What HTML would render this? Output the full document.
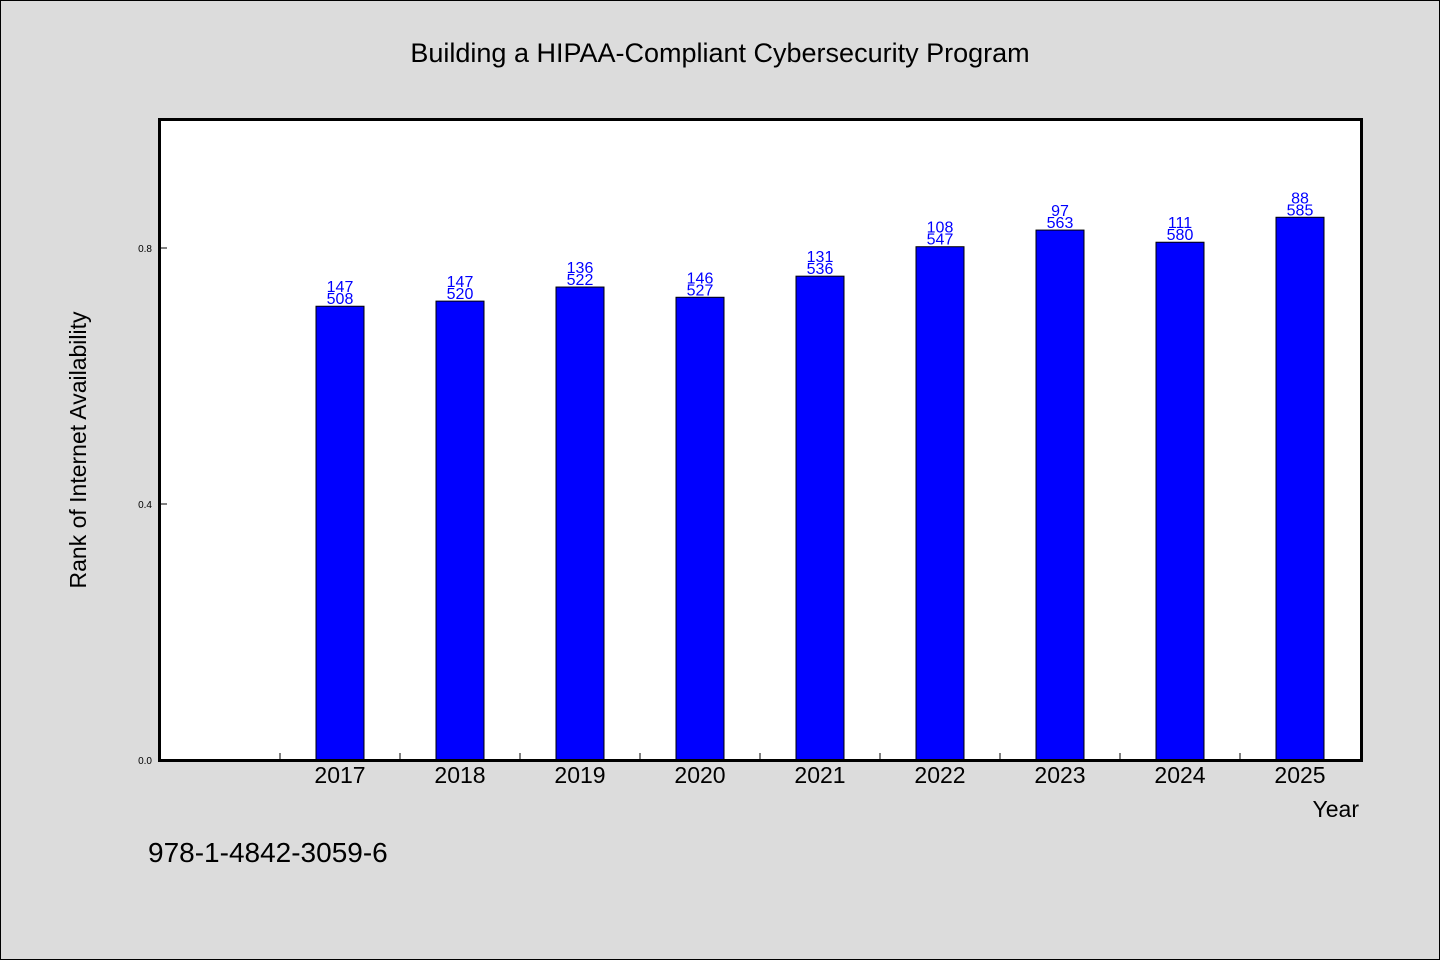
<!DOCTYPE html>
<html><head><meta charset="utf-8"><style>
body{margin:0;background:#dcdcdc;}
svg{display:block;font-family:"WenQuanYi Zen Hei","Liberation Sans",sans-serif;}
</style></head><body>
<svg id="chart" width="1440" height="960">
<rect x="0.5" y="0.5" width="1439" height="959" fill="#dcdcdc" stroke="#000"/>
<text x="720" y="62" text-anchor="middle" font-size="27">Building a HIPAA-Compliant Cybersecurity Program</text>
<rect x="159.5" y="119.5" width="1202" height="641" fill="#fff"/>
<g id="marks"></g>
<rect x="159.5" y="119.5" width="1202" height="641" fill="none" stroke="#000" stroke-width="3"/>
<text x="86" y="450" text-anchor="middle" font-size="23" transform="rotate(-90 86 450)">Rank of Internet Availability</text>
<text x="1359" y="817" text-anchor="end" font-size="23">Year</text>
<text x="148" y="862" font-size="28">978-1-4842-3059-6</text>
</svg>
<script>
const categories=["2017","2018","2019","2020","2021","2022","2023","2024","2025"];
const values=[0.709,0.717,0.739,0.723,0.756,0.802,0.828,0.809,0.848];
const labelTop=["147","147","136","146","131","108","97","111","88"];
const labelBottom=["508","520","522","527","536","547","563","580","585"];
const yTicks=[0,0.4,0.8];
const yTickLabels=["0.0","0.4","0.8"];
const NS="http://www.w3.org/2000/svg";
const g=document.getElementById('marks');
const x0=160,y0=760,slot=120,yScale=640;
const xs=i=>x0+slot/2+slot*(i+1);
const ys=v=>y0-v*yScale;
function mk(t,a){const e=document.createElementNS(NS,t);for(const k in a)e.setAttribute(k,a[k]);g.appendChild(e);return e;}
yTicks.forEach((v,i)=>{
 const l=mk('line',{x1:160,x2:167,y1:ys(v),y2:ys(v),stroke:'#000'});
 
 
 const t=mk('text',{x:152,y:ys(v)+4,'text-anchor':'end','font-size':10});
 t.textContent=yTickLabels[i];
 
 
});
for(let i=0;i<categories.length;i++){
 const tx=x0+slot*(i+1);
 const tk=mk('line',{x1:tx,x2:tx,y1:760,y2:753,stroke:'#000'});
 
 
}
categories.forEach((c,i)=>{
 const cx=xs(i),top=ys(values[i]);
 const b=mk('rect',{x:cx-24,y:top,width:48,height:y0-top,fill:'#0000ff',stroke:'#000','stroke-width':1});
 
 
 const t1=mk('text',{x:cx,y:top-14,'text-anchor':'middle','font-size':16,fill:'#0000ff'});
 t1.textContent=labelTop[i];
 
 
 const t2=mk('text',{x:cx,y:top-2,'text-anchor':'middle','font-size':16,fill:'#0000ff'});
 t2.textContent=labelBottom[i];
 
 
 const xl=mk('text',{x:cx,y:783,'text-anchor':'middle','font-size':23});
 xl.textContent=c;
 
 
});
</script>
</body></html>
